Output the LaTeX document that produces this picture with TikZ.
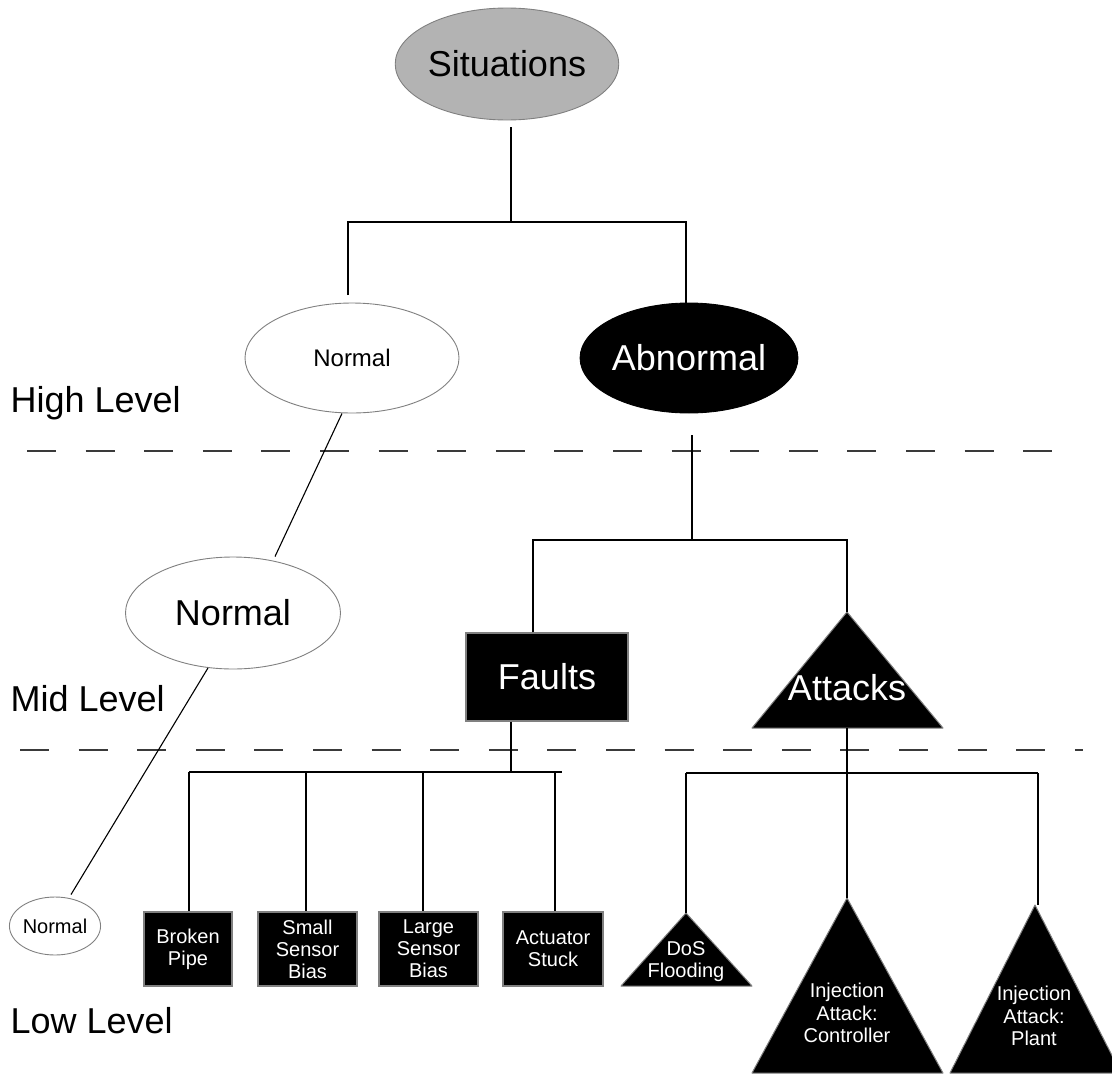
\documentclass[tikz,border=0pt]{standalone}
\usepackage{fontspec}
\setmainfont{Liberation Sans}
\usetikzlibrary{shapes.geometric}
\definecolor{sitfill}{HTML}{B3B3B3}
\definecolor{rim}{HTML}{808080}
\definecolor{dashgray}{HTML}{3A3A3A}
\begin{document}
\begin{tikzpicture}[x=1pt,y=-1pt,
  wire/.style={line width=1.1pt, black},
  levelline/.style={dashgray, line width=2pt, dash pattern=on 29pt off 29.6pt},
  oval/.style={ellipse, draw=rim, line width=0.9pt, inner sep=0pt},
  bigtxt/.style={font=\fontsize{36}{40}\selectfont},
  midtxt/.style={font=\fontsize{24}{28}\selectfont},
  smalltxt/.style={font=\fontsize{20}{22}\selectfont},
  blackbox/.style={draw=rim, fill=black, line width=1.4pt, text=white, align=center, inner sep=0pt},
  lowbox/.style={blackbox, smalltxt, minimum height=74pt},
  tri/.style={fill=black, draw=rim, line width=1pt, line join=round},
  tritxt/.style={text=white, align=center, inner sep=0pt},
  levellabel/.style={bigtxt, anchor=base west, inner sep=0pt}
]
\useasboundingbox (0,0) rectangle (1112,1074);

% level separators
\draw[levelline] (27,451) -- (1052,451);
\draw[levelline] (20,750) -- (1083,750);

% level labels
\node[levellabel] (lvhigh) at (10.5,412) {High Level};
\node[levellabel] (lvmid)  at (10.5,711) {Mid Level};
\node[levellabel] (lvlow)  at (10.5,1033) {Low Level};

% high level
\node[oval, fill=sitfill, bigtxt, minimum width=213pt, minimum height=112pt] (sit) at (507,64) {Situations};
\node[oval, fill=white, midtxt, minimum width=214pt, minimum height=110pt] (nh) at (352,358) {Normal};
\node[oval, fill=black, draw=black, text=white, bigtxt, minimum width=213pt, minimum height=110pt] (abn) at (689,358) {Abnormal};

% mid level
\node[oval, fill=white, bigtxt, minimum width=215pt, minimum height=112pt] (nm) at (233,613) {Normal};
\node[blackbox, bigtxt, minimum width=162pt, minimum height=88pt] (flt) at (547,677) {Faults};
\coordinate (atktop) at (847,612);
\fill[tri] (atktop) -- (943,728) -- (752,728) -- cycle;
\node[tritxt, bigtxt] (atk) at (847,688) {Attacks};
\coordinate (atkbase) at (847,728);

% low level: normal
\node[oval, fill=white, smalltxt, minimum width=88pt, minimum height=58pt] (nl) at (55,926) {Normal};

% low level: faults
\node[lowbox, minimum width=88pt]  (bp) at (188,949)   {Broken\\Pipe};
\node[lowbox, minimum width=99pt]  (ss) at (307.5,949) {Small\\Sensor\\Bias};
\node[lowbox, minimum width=99pt]  (ls) at (428.5,949) {Large\\Sensor\\Bias};
\node[lowbox, minimum width=100pt] (as) at (553,949)   {Actuator\\Stuck};

% low level: attacks
\coordinate (dostop) at (686,913);
\fill[tri] (dostop) -- (752,986) -- (621,986) -- cycle;
\node[tritxt, smalltxt] (dos) at (686,962) {DoS\\Flooding};
\coordinate (injctop) at (847,898);
\fill[tri] (injctop) -- (943,1073) -- (752,1073) -- cycle;
\node[tritxt, font=\fontsize{20}{22.5}\selectfont] (injc) at (847,1013) {Injection\\Attack:\\Controller};
\coordinate (injptop) at (1035,905);
\fill[tri] (injptop) -- (1121,1073) -- (950,1073) -- cycle;
\node[tritxt, font=\fontsize{20}{22.5}\selectfont] (injp) at (1034,1016) {Injection\\Attack:\\Plant};

% tree: situations
\coordinate (s0) at (511,127);
\coordinate (s1) at (511,222);
\coordinate (sl) at (348,222);
\coordinate (sr) at (686,222);
\coordinate (slend) at (348,295);
\draw[wire] (s0) -- (s1);
\draw[wire] (slend) -- (sl) -- (sr) -- (sr |- abn.north);

% tree: normal chain
\draw[wire] ([xshift=-10pt]nh.south) -- ([xshift=42pt]nm.north);
\draw[wire] ([xshift=-25pt, yshift=1.5pt]nm.south) -- ([xshift=16pt, yshift=2pt]nl.north);

% tree: abnormal
\coordinate (a0) at (692,435);
\coordinate (a1) at (692,540);
\coordinate (al) at (533,540);
\coordinate (ar) at (847,540);
\draw[wire] (a0) -- (a1);
\draw[wire] (al |- flt.north) -- (al) -- (ar) -- (atktop);

% tree: faults
\coordinate (fj) at (511,772);
\coordinate (f1) at (189,772);
\coordinate (f2) at (306,772);
\coordinate (f3) at (423,772);
\coordinate (f4) at (555,772);
\coordinate (fend) at (562,772);
\draw[wire] (fj |- flt.south) -- (fj);
\draw[wire] (f1) -- (fend);
\draw[wire] (f1) -- (f1 |- bp.north);
\draw[wire] (f2) -- (f2 |- ss.north);
\draw[wire] (f3) -- (f3 |- ls.north);
\draw[wire] (f4) -- (f4 |- as.north);

% tree: attacks
\coordinate (t1) at (686,773);
\coordinate (t3) at (1038,773);
\coordinate (t3end) at (1038,905);
\draw[wire] (atkbase) -- (injctop);
\draw[wire] (t1) -- (t3);
\draw[wire] (t1) -- (dostop);
\draw[wire] (t3) -- (t3end);
\end{tikzpicture}
\end{document}
